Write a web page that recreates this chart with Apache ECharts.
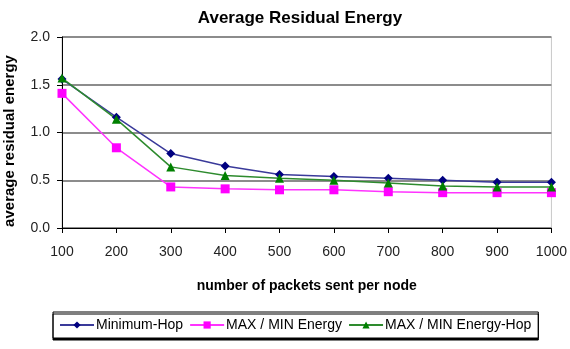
<!DOCTYPE html>
<html><head><meta charset="utf-8">
<script src="https://cdn.jsdelivr.net/npm/echarts@6/dist/echarts.min.js"></script>
<style>html,body{margin:0;padding:0;background:#fff}#c{width:570px;height:349px}</style>
</head><body><div id="c"></div>
<script>
const categories = ['100','200','300','400','500','600','700','800','900','1000'];
const minHop = [1.56, 1.16, 0.78, 0.65, 0.56, 0.54, 0.52, 0.50, 0.48, 0.48];
const maxMinEnergy = [1.41, 0.84, 0.43, 0.41, 0.40, 0.40, 0.38, 0.37, 0.37, 0.37];
const maxMinEnergyHop = [1.57, 1.14, 0.64, 0.55, 0.52, 0.50, 0.47, 0.44, 0.43, 0.43];
const seriesNames = ['Minimum-Hop', 'MAX / MIN Energy', 'MAX / MIN Energy-Hop'];
const yAxisTitle = 'average residual energy';

const font = 'Liberation Sans, Arial, sans-serif';
const chart = echarts.init(document.getElementById('c'));
chart.setOption({
  animation: false,
  title: {
    text: 'Average Residual Energy', left: 295, textAlign: 'center', top: 5,
    textStyle: {fontFamily: font, fontSize: 17, fontWeight: 'bold', color: '#000'}
  },
  grid: {left: 62, right: 16, top: 37, bottom: 121, show: true, borderColor: '#c8c8c8', borderWidth: 1},
  legend: {
    data: seriesNames, left: 53, top: 312,
    itemWidth: 34, itemHeight: 9, itemGap: 6,
    padding: [6, 7, 6, 6],
    borderColor: '#000', borderWidth: 1, backgroundColor: '#fff',
    shadowColor: '#000', shadowOffsetX: 0, shadowOffsetY: 2, shadowBlur: 0,
    textStyle: {fontFamily: font, fontSize: 14, color: '#000', padding: [0, 0, 0, -3]}
  },
  graphic: [{
    type: 'text', x: 10, y: 141, rotation: Math.PI / 2,
    style: {text: yAxisTitle, fontFamily: font, fontSize: 15, fontWeight: 'bold', fill: '#000',
            align: 'center', verticalAlign: 'middle'}
  }],
  xAxis: {
    type: 'category', data: categories, boundaryGap: false,
    name: 'number of packets sent per node', nameLocation: 'middle', nameGap: 51,
    nameTextStyle: {fontFamily: font, fontSize: 14, fontWeight: 'bold', color: '#000'},
    axisLine: {lineStyle: {color: '#000', width: 1}},
    axisTick: {show: true, length: 5, lineStyle: {color: '#000'}},
    axisLabel: {fontFamily: font, fontSize: 14, color: '#222', margin: 17}
  },
  yAxis: {
    type: 'value', min: 0, max: 2, interval: 0.5,
    axisLine: {show: true, lineStyle: {color: '#000', width: 1}},
    axisTick: {show: true, length: 5, lineStyle: {color: '#000'}},
    axisLabel: {fontFamily: font, fontSize: 14, color: '#222', margin: 12, formatter: v => v.toFixed(1)},
    splitLine: {show: true, lineStyle: {color: '#8c8c8c', width: 2}}
  },
  series: [
    {name: seriesNames[0], type: 'line', data: minHop, symbol: 'diamond', symbolSize: 9,
     itemStyle: {color: '#000080'}, lineStyle: {color: '#3a3a9a', width: 1.5}},
    {name: seriesNames[1], type: 'line', data: maxMinEnergy, symbol: 'rect', symbolSize: 9,
     itemStyle: {color: '#ff00ff'}, lineStyle: {color: '#ff33ff', width: 1.5}},
    {name: seriesNames[2], type: 'line', data: maxMinEnergyHop, symbol: 'triangle', symbolSize: 9,
     itemStyle: {color: '#008000'}, lineStyle: {color: '#2e8b2e', width: 1.5}}
  ]
});
</script></body></html>
